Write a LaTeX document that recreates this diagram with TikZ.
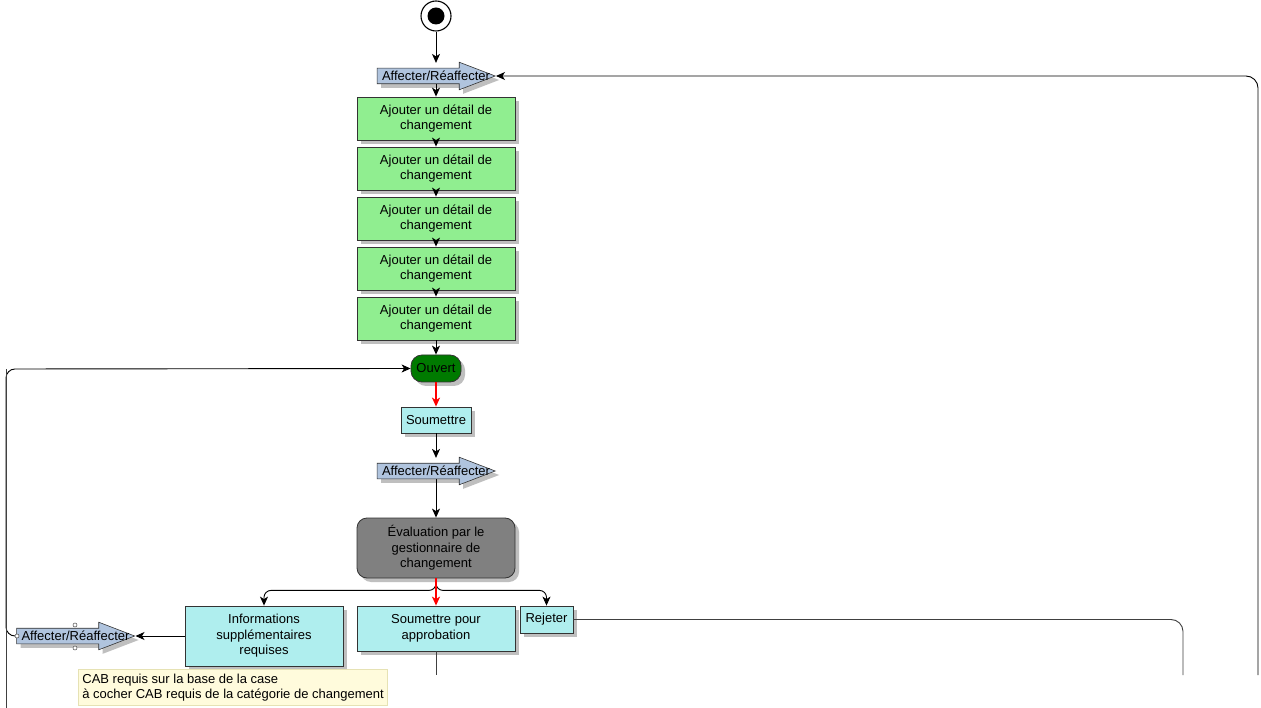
\documentclass[tikz,border=0pt]{standalone}
\usepackage{fontspec}
\setmainfont{Liberation Sans}
\usetikzlibrary{shapes.arrows,shadows,arrows.meta}
\definecolor{lgreen}{HTML}{90EE90}
\definecolor{lcyan}{HTML}{AFEEEE}
\definecolor{lblue}{HTML}{B0C4DE}
\definecolor{dgreen}{HTML}{007A00}
\definecolor{mgray}{HTML}{808080}
\definecolor{notefill}{HTML}{FFFBDC}
\definecolor{noteline}{HTML}{E6E2B4}
\newcommand\dfont{\fontsize{13}{15.5}\selectfont}
\tikzset{
  base/.style={draw=black!80, line width=0.8pt, font=\dfont, align=center, inner sep=1pt, text=black},
  shad/.style={drop shadow={shadow xshift=4pt, shadow yshift=-4pt, fill=black!25, opacity=1}},
  greenbox/.style={base, shad, fill=lgreen, minimum width=158pt, minimum height=43pt},
  cyanbox/.style={base, shad, fill=lcyan},
  affarrow/.style={single arrow, draw=black!80, line width=0.6pt, fill=lblue, shad,
    single arrow head extend=6pt, single arrow tip angle=42, minimum height=118pt,
    inner xsep=0pt, inner ysep=7.5pt,
    label={[font=\dfont, text=black, xshift=10pt]center:Affecter/Réaffecter}},
  conn/.style={draw=black, line width=0.9pt, -{Stealth[length=9pt,width=8pt,inset=2.5pt]}},
  redconn/.style={draw=red, line width=1.6pt, -{Stealth[length=9pt,width=8pt,inset=2.5pt]}},
  plain/.style={draw=black!75, line width=0.9pt},
  glue/.style={draw=black!70, fill=white, line width=0.5pt}
}
\begin{document}
\begin{tikzpicture}[x=1pt,y=-1pt]
\useasboundingbox[fill=white] (0,0) rectangle (1261,708);

% start
\node[circle, draw=black, line width=1.1pt, minimum size=30pt, inner sep=0pt] (start) at (436,16) {};
\node[circle, fill=black, minimum size=17pt, inner sep=0pt] (startdot) at (436,16) {};

\node[affarrow] (a1) at (426,76) {};
\node[greenbox] (g1) at (436,118.5) {Ajouter un détail de\\changement};
\node[greenbox] (g2) at (436,168.5) {Ajouter un détail de\\changement};
\node[greenbox] (g3) at (436,218.5) {Ajouter un détail de\\changement};
\node[greenbox] (g4) at (436,268.5) {Ajouter un détail de\\changement};
\node[greenbox] (g5) at (436,318.5) {Ajouter un détail de\\changement};
\node[base, shad, fill=dgreen, rounded corners=11pt, minimum width=50pt, minimum height=27pt] (ouv) at (436,368.5) {Ouvert};
\node[cyanbox, minimum width=70pt, minimum height=26pt] (soum) at (436,420) {Soumettre};
\node[affarrow] (a2) at (426,471) {};
\node[base, shad, fill=mgray, rounded corners=10pt, minimum width=158pt, minimum height=60pt] (eval) at (436,548) {Évaluation par le\\gestionnaire de\\changement};
\node[cyanbox, minimum width=158pt, minimum height=60pt] (info) at (264,636) {Informations\\supplémentaires\\requises};
\node[cyanbox, minimum width=158pt, minimum height=45pt] (sapp) at (436,628.5) {Soumettre pour\\approbation};
\node[cyanbox, minimum width=53pt, minimum height=27pt] (rej) at (546.5,619.5) {Rejeter};
\node[affarrow] (a3) at (65.5,636) {};
\node[draw=noteline, fill=notefill, line width=0.8pt, font=\dfont, align=left, inner xsep=4pt, inner ysep=2pt,
      minimum height=36pt, anchor=north west] (note) at (78,669) {CAB requis sur la base de la case\\à cocher CAB requis de la catégorie de changement};

% free ends
\coordinate (rb) at (1258,675);
\coordinate (jb) at (1183,675);
\coordinate (sb) at (436,675);
\coordinate (lb) at (6,708);
\coordinate (lc) at (6,369);

% connectors
\draw[conn, shorten >=5pt] (start) -- (start |- a1.north);
\draw[conn] (g1.north |- a1.south) -- (g1.north);
\draw[conn] (g1) -- (g2);
\draw[conn] (g2) -- (g3);
\draw[conn] (g3) -- (g4);
\draw[conn] (g4) -- (g5);
\draw[conn] (g5) -- (ouv);
\draw[redconn] (ouv) -- (soum);
\draw[conn, shorten >=5pt] (soum) -- (soum |- a2.north);
\draw[conn] (eval.north |- a2.south) -- (eval.north);
\draw[conn, rounded corners=7pt] (eval.south) -- ++(0,12) -| (info.north);
\draw[conn, rounded corners=7pt] (eval.south) -- ++(0,12) -| (rej.north);
\draw[redconn] (eval) -- (sapp);
\draw[conn] (info.west) -- (a3.tip);
\draw[conn, rounded corners=9pt] (a3.west) -| (lc) -- (ouv.west);
\draw[plain] (lb) -- (lc);
\draw[conn, rounded corners=12pt] (rb) |- (a1.tip);
\draw[plain, rounded corners=12pt] (rej.east) -| (jb);
\draw[plain] (sapp) -- (sb);

% glue points on selected shape
\draw[glue] (75,625) circle (2);
\draw[glue] (75,648) circle (2);
\draw[glue] (17,636) circle (2);
\end{tikzpicture}
\end{document}
